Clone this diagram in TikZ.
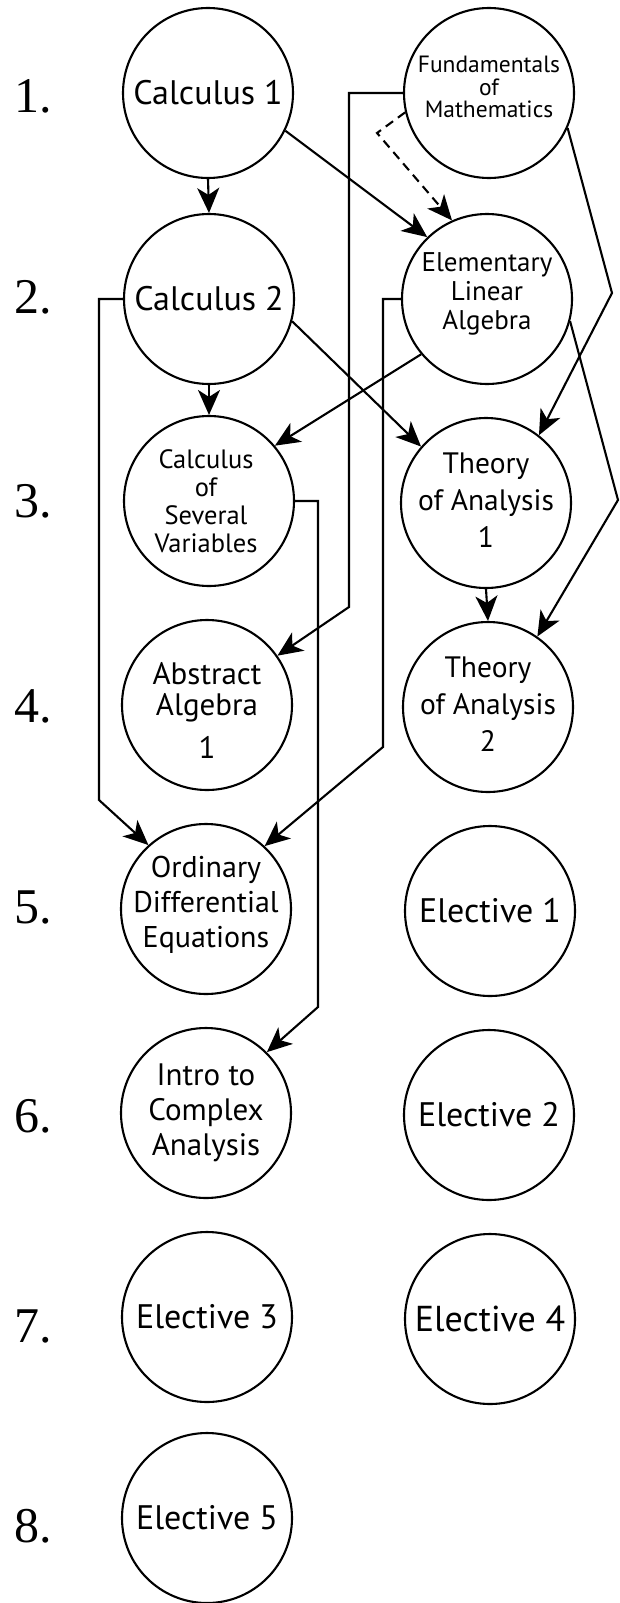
\documentclass[tikz,border=0pt]{standalone}
\usepackage{fontspec}
\setmainfont{Liberation Serif}
\newfontfamily\nodefont{PT Sans}
\usetikzlibrary{arrows.meta}
\newcommand\fsz[2]{\fontsize{#1}{#2}\selectfont}
\begin{document}
\begin{tikzpicture}[x=1pt,y=-1pt,
  course/.style={circle, draw, line width=2.1pt, minimum size=170pt, inner sep=0pt},
  txt/.style={align=center, inner sep=0pt},
  conn/.style={line width=2.1pt, -{Stealth[length=25pt,width=22pt,inset=7pt]}},
  lbl/.style={anchor=base west, inner sep=0pt, font=\fsz{50}{50}},
]
\useasboundingbox (0,0) rectangle (620,1603);

% row labels
\node[lbl] (l1) at (14,112) {1.};
\node[lbl] (l2) at (14,313) {2.};
\node[lbl] (l3) at (14,517) {3.};
\node[lbl] (l4) at (14,722) {4.};
\node[lbl] (l5) at (14,923) {5.};
\node[lbl] (l6) at (14,1132) {6.};
\node[lbl] (l7) at (14,1342) {7.};
\node[lbl] (l8) at (14,1542) {8.};

% circles
\node[course] (c1) at (208,93) {};
\node[course] (fm) at (489,93) {};
\node[course] (c2) at (209,299) {};
\node[course] (ela) at (487,299) {};
\node[course] (csv) at (209,501) {};
\node[course] (ta1) at (486,503) {};
\node[course] (aa) at (207,705) {};
\node[course] (ta2) at (488,707) {};
\node[course] (ode) at (206,909) {};
\node[course] (e1) at (490,911) {};
\node[course] (ica) at (206,1113) {};
\node[course] (e2) at (489,1115) {};
\node[course] (e3) at (207,1317) {};
\node[course] (e4) at (490,1319) {};
\node[course] (e5) at (207,1518) {};

% texts
\node[txt, font=\nodefont\fsz{34}{40}] (c1t) at (c1) {Calculus 1};
\node[txt, font=\nodefont\fsz{23.5}{22.5}, yshift=6pt] (fmt) at (fm) {Fundamentals\\of\\Mathematics};
\node[txt, font=\nodefont\fsz{34}{40}] (c2t) at (c2) {Calculus 2};
\node[txt, font=\nodefont\fsz{27}{29}, yshift=5pt] (elat) at (ela) {Elementary\\Linear\\Algebra};
\node[txt, font=\nodefont\fsz{26.5}{28}, xshift=-3pt] (csvt) at (csv) {Calculus\\of\\Several\\Variables};
\node[txt, font=\nodefont\fsz{29.5}{37}, yshift=3pt] (ta1t) at (ta1) {Theory\\of Analysis\\1};
\node[txt, font=\nodefont\fsz{31}{31}, yshift=-5pt] (aat) at (aa) {Abstract\\Algebra\\[12pt]1};
\node[txt, font=\nodefont\fsz{29.5}{37}, yshift=3pt] (ta2t) at (ta2) {Theory\\of Analysis\\2};
\node[txt, font=\nodefont\fsz{30}{35}, yshift=4pt] (odet) at (ode) {Ordinary\\Differential\\Equations};
\node[txt, font=\nodefont\fsz{34}{40}] (e1t) at (e1) {Elective 1};
\node[txt, font=\nodefont\fsz{31}{35}] (icat) at (ica) {Intro to\\Complex\\Analysis};
\node[txt, font=\nodefont\fsz{34}{40}] (e2t) at (e2) {Elective 2};
\node[txt, font=\nodefont\fsz{34}{40}] (e3t) at (e3) {Elective 3};
\node[txt, font=\nodefont\fsz{36}{40}] (e4t) at (e4) {Elective 4};
\node[txt, font=\nodefont\fsz{34}{40}] (e5t) at (e5) {Elective 5};

% bend points
\coordinate (d1) at (377,133);
\coordinate (a1) at (349,93);
\coordinate (a2) at (349,607);
\coordinate (t1) at (612,293);
\coordinate (t2) at (618,500);
\coordinate (o1) at (383,299);
\coordinate (o2) at (383,747);
\coordinate (p1) at (99,299);
\coordinate (p2) at (99,800);
\coordinate (q1) at (318,501);
\coordinate (q2) at (318,1007);

% connectors
\draw[conn] (c1.south) -- (c2.north);
\draw[conn] (c1.-26) -- (ela.134);
\draw[conn, dash pattern=on 9pt off 6pt] (fm.193) -- (d1) -- (ela.114);
\draw[conn] (fm.west) -- (a1) -- (a2) -- (aa.35);
\draw[conn] (fm.-24) -- (t1) -- (ta1.52);
\draw[conn] (ela.-15) -- (t2) -- (ta2.55);
\draw[conn] (ela.west) -- (o1) -- (o2) -- (ode.47);
\draw[conn] (ela.220) -- (csv.40);
\draw[conn] (c2.south) -- (csv.north);
\draw[conn] (c2.-15) -- (ta1.139);
\draw[conn] (c2.west) -- (p1) -- (p2) -- (ode.132);
\draw[conn] (csv.east) -- (q1) -- (q2) -- (ica.45);
\draw[conn] (ta1.south) -- (ta2.north);
\end{tikzpicture}
\end{document}
